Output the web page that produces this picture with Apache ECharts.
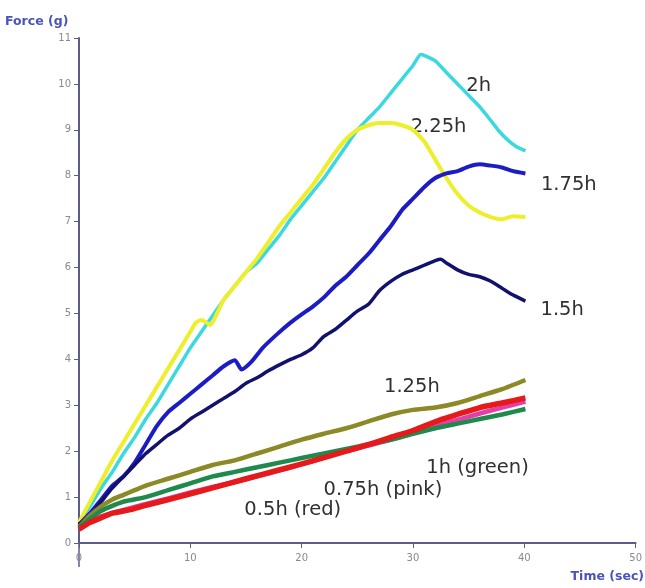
<!DOCTYPE html>
<html>
<head>
<meta charset="utf-8">
<script src="https://cdn.jsdelivr.net/npm/echarts@6/dist/echarts.min.js"></script>
<style>
  html, body { margin: 0; padding: 0; background: #ffffff; }
  #chart { width: 645px; height: 588px; }
</style>
</head>
<body>
<div id="chart"></div>
<script>
// Force (g) against time (sec) for different soaking durations.
const xTicks = [0, 10, 20, 30, 40, 50];
const yTicks = [0, 1, 2, 3, 4, 5, 6, 7, 8, 9, 10, 11];

const t2h = [0, 1, 2, 3, 4, 5, 6, 7, 8, 9, 10, 11, 12, 13, 14, 15, 16, 17, 18, 19, 20, 21, 22, 23, 24, 25, 26, 27, 28, 29, 30, 30.7, 31, 32, 33, 34, 35, 36, 37, 37.7, 38.5, 39.3, 40.1];
const f2h = [0.45, 0.8, 1.2, 1.55, 1.95, 2.3, 2.7, 3.05, 3.45, 3.85, 4.25, 4.6, 4.95, 5.3, 5.6, 5.9, 6.1, 6.4, 6.7, 7.05, 7.35, 7.65, 7.95, 8.3, 8.65, 9.0, 9.25, 9.5, 9.8, 10.1, 10.4, 10.64, 10.62, 10.5, 10.25, 10.0, 9.75, 9.5, 9.2, 8.98, 8.78, 8.63, 8.54];

const t225h = [0, 1, 2, 3, 4, 5, 6, 7, 8, 9, 10, 10.5, 11, 11.8, 12.5, 13, 14, 15, 16, 17, 18, 19, 20, 21, 22, 23, 24, 25, 26, 27, 28, 29, 30, 31, 32, 33, 34, 35, 36, 37, 38, 39, 40.1];
const f225h = [0.45, 0.9, 1.35, 1.8, 2.2, 2.6, 3.0, 3.4, 3.8, 4.2, 4.6, 4.8, 4.86, 4.75, 5.05, 5.3, 5.6, 5.9, 6.2, 6.55, 6.9, 7.2, 7.5, 7.8, 8.15, 8.5, 8.8, 9.0, 9.1, 9.15, 9.15, 9.1, 9.0, 8.75, 8.35, 7.95, 7.6, 7.35, 7.2, 7.1, 7.05, 7.12, 7.1];

const t175h = [0, 1, 2, 3, 4, 5, 6, 7, 8, 9, 10, 11, 12, 13, 14, 14.6, 15.5, 16.5, 17.8, 19, 20, 21, 22, 23, 24, 25, 26, 27, 28, 29, 30, 31, 32, 33, 34, 35, 36, 37, 38, 39, 40.1];
const f175h = [0.4, 0.65, 0.95, 1.25, 1.45, 1.75, 2.15, 2.55, 2.85, 3.05, 3.25, 3.45, 3.65, 3.85, 3.98, 3.78, 3.95, 4.25, 4.55, 4.8, 4.98, 5.15, 5.35, 5.6, 5.8, 6.05, 6.3, 6.6, 6.9, 7.25, 7.5, 7.75, 7.95, 8.05, 8.1, 8.2, 8.25, 8.22, 8.18, 8.1, 8.05];

const t15h = [0, 1, 2, 3, 4, 5, 6, 7, 8, 9, 10, 11, 12, 13, 14, 15, 16, 17, 18, 19, 20, 21, 22, 23, 24, 25, 26, 27, 28, 29, 30, 31, 32, 32.5, 33, 34, 35, 36, 37, 38, 39, 40.1];
const f15h = [0.4, 0.6, 0.9, 1.2, 1.45, 1.7, 1.95, 2.15, 2.35, 2.5, 2.7, 2.85, 3.0, 3.15, 3.3, 3.48, 3.6, 3.75, 3.88, 4.0, 4.1, 4.25, 4.5, 4.65, 4.85, 5.05, 5.2, 5.5, 5.7, 5.85, 5.95, 6.05, 6.15, 6.18, 6.1, 5.95, 5.85, 5.8, 5.7, 5.55, 5.4, 5.27];

const t125h = [0, 1, 2, 3, 4, 5, 6, 8, 10, 12, 14, 16, 18, 20, 22, 24, 26, 28, 30, 32, 34, 36, 38, 40.1];
const f125h = [0.35, 0.6, 0.8, 0.95, 1.05, 1.15, 1.25, 1.4, 1.55, 1.7, 1.8, 1.95, 2.1, 2.25, 2.38, 2.5, 2.65, 2.8, 2.9, 2.95, 3.05, 3.2, 3.35, 3.55];

const t1h = [0, 2, 4, 6, 8, 10, 12, 14, 16, 18, 20, 22, 24, 26, 28, 30, 32, 34, 36, 38, 40.1];
const f1h = [0.35, 0.7, 0.9, 1.0, 1.15, 1.3, 1.45, 1.55, 1.65, 1.75, 1.85, 1.95, 2.05, 2.15, 2.25, 2.38, 2.5, 2.6, 2.7, 2.8, 2.92];

const t075h = [0, 2, 4, 6, 8, 10, 12, 14, 16, 18, 20, 22, 24, 26, 28, 30, 32, 34, 36, 38, 40.1];
const f075h = [0.32, 0.58, 0.72, 0.85, 0.97, 1.1, 1.22, 1.33, 1.45, 1.58, 1.72, 1.86, 2.0, 2.12, 2.25, 2.4, 2.55, 2.68, 2.82, 2.95, 3.08];

const t05h = [0, 1, 2, 3, 4.5, 6, 8.9, 12, 15, 17.8, 19.7, 22, 24, 25.7, 28, 30, 32.4, 34, 36, 38, 40.1];
const f05h = [0.3, 0.45, 0.55, 0.65, 0.72, 0.82, 1.0, 1.2, 1.4, 1.58, 1.7, 1.86, 2.0, 2.12, 2.3, 2.45, 2.68, 2.8, 2.95, 3.05, 3.16];

// Curve annotations: text and the [time, force] spot where each is centred.
const curveLabels = ['2h', '2.25h', '1.75h', '1.5h', '1.25h', '1h (green)', '0.75h (pink)', '0.5h (red)'];
const labelSpots = [[35.9, 9.96], [32.3, 9.06], [44.0, 7.8], [43.4, 5.08], [29.9, 3.4], [35.8, 1.63], [27.3, 1.15], [19.2, 0.72]];

function pairs(ts, fs) { return ts.map((t, i) => [t, fs[i]]); }

const curves = [
  { name: '2h', t: t2h, f: f2h, color: '#3cd8e0', width: 3.5 },
  { name: '2.25h', t: t225h, f: f225h, color: '#eeee2a', width: 4 },
  { name: '1.75h', t: t175h, f: f175h, color: '#1c1cc4', width: 4 },
  { name: '1.5h', t: t15h, f: f15h, color: '#12126e', width: 3.5 },
  { name: '1.25h', t: t125h, f: f125h, color: '#8c8a26', width: 4.5 },
  { name: '0.75h', t: t075h, f: f075h, color: '#e040a8', width: 4.5 },
  { name: '1h', t: t1h, f: f1h, color: '#1e8a4c', width: 4.5 },
  { name: '0.5h', t: t05h, f: f05h, color: '#e61a1a', width: 5.5 }
];

const axisColor = '#5c5c8c';
const chart = echarts.init(document.getElementById('chart'), null, { renderer: 'canvas' });

chart.setOption({
  backgroundColor: '#ffffff',
  animation: false,
  grid: { left: 79, right: 5, top: 38, bottom: 45, containLabel: false },
  xAxis: {
    type: 'value', min: 0, max: 50, interval: 10,
    axisLine: { show: true, lineStyle: { color: axisColor, width: 2 } },
    axisTick: { show: true, length: 5, lineStyle: { color: axisColor } },
    splitLine: { show: false },
    axisLabel: {
      margin: 10, color: '#8a8a8a', fontSize: 10, fontFamily: 'DejaVu Sans',
      formatter: v => (xTicks.includes(v) ? String(v) : '')
    }
  },
  yAxis: {
    type: 'value', min: 0, max: 11, interval: 1,
    axisLine: { show: true, lineStyle: { color: axisColor, width: 2 } },
    axisTick: { show: true, length: 5, lineStyle: { color: axisColor } },
    splitLine: { show: false },
    axisLabel: {
      margin: 8, color: '#8a8a8a', fontSize: 10, fontFamily: 'DejaVu Sans',
      formatter: v => (yTicks.includes(v) ? String(v) : '')
    }
  },
  series: curves.map(c => ({
    name: c.name,
    type: 'line',
    data: pairs(c.t, c.f),
    showSymbol: false,
    smooth: 0.2,
    lineStyle: { color: c.color, width: c.width, join: 'round' },
    emphasis: { disabled: true }
  }))
});

// Axis titles and curve annotations
const origin = chart.convertToPixel({ gridIndex: 0 }, [0, 0]);
const graphics = [
  {
    type: 'text', left: 5, top: 15,
    style: { text: 'Force (g)', fill: '#4a52bc', font: 'bold 12.5px "DejaVu Sans"' }
  },
  {
    type: 'text', right: 1, top: 570,
    style: { text: 'Time (sec)', fill: '#4a52bc', font: 'bold 12.5px "DejaVu Sans"' }
  },
  {
    type: 'line',
    shape: { x1: origin[0], y1: origin[1], x2: origin[0], y2: origin[1] + 24 },
    style: { stroke: axisColor, lineWidth: 1.5 }
  }
];
curveLabels.forEach((txt, i) => {
  const p = chart.convertToPixel({ gridIndex: 0 }, labelSpots[i]);
  graphics.push({
    type: 'text', x: p[0], y: p[1],
    style: {
      text: txt, fill: '#303030', font: '19.5px "DejaVu Sans"',
      align: 'center', verticalAlign: 'middle'
    }
  });
});
chart.setOption({ graphic: graphics });
</script>
</body>
</html>
